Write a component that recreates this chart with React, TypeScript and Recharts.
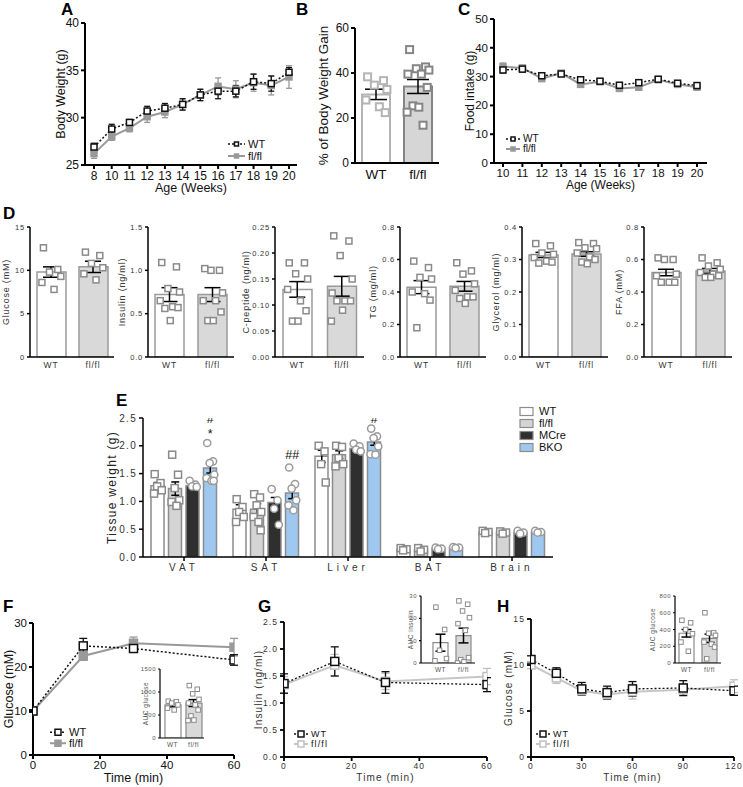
import React from "react";
import {
  Bar,
  Cell,
  ComposedChart,
  ErrorBar,
  Line,
  LineChart,
  Scatter,
  XAxis,
  YAxis,
} from "recharts";

const ARIAL = "'Liberation Sans', Arial, Helvetica, sans-serif";

// ---- A: body weight ----
const weeksA = ["8", "10", "11", "12", "13", "14", "15", "16", "17", "18", "19", "20"];
const bwWT = [26.9, 28.8, 29.5, 30.7, 31.0, 31.4, 32.4, 32.8, 32.8, 33.8, 33.6, 34.8];
const bwWTse = [0.4, 0.5, 0.3, 0.5, 0.5, 0.6, 0.6, 0.8, 0.6, 0.8, 0.8, 0.5];
const bwFL = [26.2, 28.0, 28.9, 30.1, 30.6, 31.4, 32.4, 33.3, 33.0, 33.7, 33.4, 34.3];
const bwFLse = [0.5, 0.4, 0.4, 0.6, 0.6, 0.6, 0.6, 0.9, 0.9, 0.9, 1.0, 1.2];

// ---- B: % body weight gain ----
const gainMean = [30.5, 34.0];
const gainSe = [2.3, 3.1];
const gainWT = [38.3, 36.6, 34.6, 32.7, 28.0, 25.0, 22.4];
const gainFL = [50.4, 42.7, 41.9, 41.3, 39.5, 39.5, 33.6, 25.4, 24.8, 22.6, 16.8];

// ---- C: food intake ----
const weeksC = ["10", "11", "12", "13", "14", "15", "16", "17", "18", "19", "20"];
const fiWT = [32.3, 32.6, 30.3, 30.9, 28.9, 28.4, 27.0, 27.9, 29.1, 27.7, 26.9];
const fiWTse = [1.0, 1.0, 1.0, 0.8, 0.6, 0.6, 0.6, 0.6, 0.6, 0.6, 0.6];
const fiFL = [33.5, 33.0, 29.3, 31.2, 27.3, 28.2, 25.9, 26.3, 28.9, 27.3, 26.3];
const fiFLse = [1.2, 0.9, 0.8, 0.7, 0.7, 0.6, 0.6, 0.6, 0.5, 0.5, 0.5];

// ---- D: plasma parameters ----
const dCats = ["WT", "fl/fl"];
const gluMean = [9.8, 10.4];
const gluSe = [0.6, 0.65];
const gluWT = [12.6, 10.1, 9.8, 9.3, 8.6, 7.8];
const gluFL = [12.1, 11.7, 10.8, 10.3, 9.6, 8.9];
const insMean = [0.72, 0.72];
const insSe = [0.08, 0.08];
const insWT = [1.09, 1.04, 0.79, 0.75, 0.65, 0.58, 0.57, 0.56, 0.42];
const insFL = [1.02, 1.0, 1.0, 0.74, 0.65, 0.65, 0.52, 0.42, 0.42];
const cpMean = [0.13, 0.136];
const cpSe = [0.015, 0.019];
const cpWT = [0.181, 0.181, 0.16, 0.15, 0.13, 0.108, 0.089, 0.069, 0.069];
const cpFL = [0.233, 0.223, 0.195, 0.15, 0.123, 0.108, 0.108, 0.108, 0.09, 0.069];
const tgMean = [0.43, 0.435];
const tgSe = [0.04, 0.03];
const tgWT = [0.59, 0.55, 0.49, 0.48, 0.4, 0.39, 0.35, 0.18];
const tgFL = [0.58, 0.53, 0.51, 0.45, 0.41, 0.37, 0.37, 0.36, 0.33];
const glyMean = [0.314, 0.317];
const glySe = [0.008, 0.007];
const glyWT = [0.349, 0.342, 0.32, 0.316, 0.306, 0.295, 0.292, 0.289];
const glyFL = [0.352, 0.349, 0.336, 0.333, 0.32, 0.308, 0.3, 0.292, 0.287];
const ffaMean = [0.52, 0.53];
const ffaSe = [0.02, 0.015];
const ffaWT = [0.61, 0.6, 0.6, 0.51, 0.5, 0.46, 0.46, 0.46];
const ffaFL = [0.61, 0.58, 0.56, 0.54, 0.52, 0.51, 0.5, 0.49, 0.49];

// ---- E: tissue weights ----
const tissues = ["VAT", "SAT", "Liver", "BAT", "Brain"];
const groupsE = ["WT", "fl/fl", "MCre", "BKO"];
const wtMean = [1.28, 0.86, 1.81, 0.14, 0.45];
const wtSe = [0.06, 0.08, 0.11, 0.02, 0.01];
const flMean = [1.23, 0.86, 1.84, 0.13, 0.44];
const flSe = [0.12, 0.1, 0.07, 0.02, 0.01];
const mcMean = [1.28, 0.98, 1.95, 0.15, 0.44];
const mcSe = [0.03, 0.09, 0.03, 0.02, 0.01];
const bkoMean = [1.6, 1.15, 2.07, 0.17, 0.45];
const bkoSe = [0.09, 0.1, 0.06, 0.01, 0.01];
const wtPts = [[1.49, 1.33, 1.27, 1.2, 1.14], [1.04, 0.9, 0.81, 0.72, 0.63], [2.0, 1.9, 1.67, 1.34], [0.16, 0.14, 0.12], [0.47, 0.45, 0.43]];
const flPts = [[1.84, 1.48, 1.24, 1.02, 0.99, 0.92], [1.13, 1.07, 0.93, 0.81, 0.72, 0.63, 0.48], [2.0, 1.98, 1.78, 1.67, 1.63], [0.16, 0.13, 0.1], [0.46, 0.44, 0.42]];
const mcPts = [[1.37, 1.3, 1.27, 1.26], [1.22, 1.02, 0.87, 0.58], [2.04, 1.99, 1.93, 1.9], [0.17, 0.15, 0.14], [0.47, 0.44, 0.42]];
const bkoPts = [[2.05, 1.72, 1.69, 1.48, 1.42, 1.37, 1.37], [1.61, 1.31, 1.23, 1.02, 0.93, 0.84], [2.31, 2.17, 2.14, 1.99, 1.85, 1.84], [0.18, 0.17, 0.16], [0.47, 0.45, 0.44]];
// significance marks over BKO bars (tissue index, label, height in g)
const sigTissue = [0, 0, 1, 2];
const sigText = ["#", "*", "##", "#"];
const sigAt = [2.48, 2.22, 1.83, 2.48];

// ---- F: GTT ----
const tF = [0, 15, 30, 60];
const gttWT = [10, 24.8, 24.2, 21.6];
const gttWTse = [0.3, 1.7, 0.4, 1.2];
const gttFL = [10, 22.5, 25.4, 24.5];
const gttFLse = [0.3, 1.0, 1.4, 2.0];
const aucGMean = [720, 760];
const aucGSe = [45, 75];
const aucGWT = [800, 790, 760, 720, 650, 610];
const aucGFL = [1140, 1060, 960, 840, 760, 720, 610, 480, 390, 380];

// ---- G: insulin ----
const tG = [0, 15, 30, 60];
const insTWT = [1.36, 1.77, 1.38, 1.34];
const insTWTse = [0.18, 0.27, 0.2, 0.13];
const insTFL = [1.34, 1.7, 1.4, 1.49];
const insTFLse = [0.15, 0.2, 0.15, 0.15];
const aucIMean = [9.1, 12.3];
const aucISe = [3.8, 3.3];
const aucIWT = [25, 15, 5.7, 2, 1];
const aucIFL = [27.8, 26.3, 23.3, 20.3, 17.6, 14.6, 2.4, 1.5, 0.5, 0];

// ---- H: ITT ----
const tH = [0, 15, 30, 45, 60, 90, 120];
const ittWT = [10.6, 9.1, 7.4, 7.0, 7.4, 7.5, 7.2];
const ittWTse = [0.4, 0.6, 0.7, 0.7, 0.8, 0.8, 0.5];
const ittFL = [10.0, 8.6, 7.2, 6.8, 7.1, 7.3, 7.7];
const ittFLse = [0.4, 0.6, 0.5, 0.5, 0.8, 0.7, 0.7];
const aucHMean = [355, 295];
const aucHSe = [45, 50];
const aucHWT = [510, 480, 400, 350, 250, 140];
const aucHFL = [600, 360, 355, 330, 250, 225, 190, 50];

// horizontal scatter of dots inside a bar (fraction of half-spread)
const JIT = [-0.5, 0.45, -0.1, 0.65, -0.6, 0.2, 0.55, -0.3, 0.05, -0.65, 0.3, -0.2];

type Box = { l: number; t: number; r: number; b: number };
const MT = 8;
const MR = 12;
const TP = 12;

type LineStyle = {
  name: string;
  stroke: string;
  width: number;
  dash?: string;
  mark: string;
  fill: string;
  size: number;
  cap: number;
};

const WT_A: LineStyle = { name: "WT", stroke: "#111", width: 1.5, dash: "2 2", mark: "#111", fill: "#fff", size: 6, cap: 3 };
const FL_A: LineStyle = { name: "fl/fl", stroke: "#999", width: 2, mark: "#999", fill: "#999", size: 6, cap: 3 };
const WT_F: LineStyle = { ...WT_A, size: 8, cap: 4 };
const FL_F: LineStyle = { ...FL_A, size: 8, cap: 4 };
const WT_G: LineStyle = { name: "WT", stroke: "#111", width: 1.3, dash: "2 2", mark: "#111", fill: "#fff", size: 8, cap: 4 };
const FL_G: LineStyle = { name: "fl/fl", stroke: "#c6c6c6", width: 2, mark: "#c0c0c0", fill: "#fff", size: 8, cap: 4 };

const rowsOf = (xs: (string | number)[], a: number[], ae: number[], b: number[], be: number[]) =>
  xs.map((x, i) => ({ x, a: a[i], aE: ae[i], b: b[i], bE: be[i] }));

const squareDot = (st: LineStyle) => (p: any) => {
  if (p.cx == null || p.cy == null) return <g key={`n${p.index}`} />;
  const h = st.size / 2;
  return (
    <rect key={`d${p.index}`} x={p.cx - h} y={p.cy - h} width={st.size} height={st.size}
      fill={st.fill} stroke={st.mark} strokeWidth={1.5} />
  );
};

// x tick with its own letter spacing
const spacedTick = (size: number, fill: string, sp: number) => (t: any) => (
  <text x={t.x} y={t.y} dy="0.71em" textAnchor="middle" fontSize={size} fill={fill} style={{ letterSpacing: sp }}>
    {t.payload.value}
  </text>
);

type LineProps = {
  box: Box;
  rows: any[];
  xType: "category" | "number";
  xDomain?: [number, number];
  xTicks?: number[];
  xPad?: [number, number];
  yDomain: [number, number];
  yTicks: number[];
  yFmt?: (v: number) => string;
  series: LineStyle[];
  tick: number;
  titleSize: number;
  color: string;
  axisW: number;
  cls?: string;
  xTitle: string;
  xBase: number;
  yTitle: string;
  yTitleX: number;
};

function LinePanel(p: LineProps) {
  const { box } = p;
  const yw = box.l - p.yTitleX + TP;
  const xh = p.xBase - box.b;
  const w = yw + box.r - box.l + MR;
  const h = MT + box.b - box.t + xh;
  const tick = { fill: p.color, fontSize: p.tick };
  const ax = { stroke: "#000", strokeWidth: p.axisW };
  const keys = ["a", "b"];
  return (
    <div className={p.cls} style={{ position: "absolute", left: box.l - yw, top: box.t - MT }}>
      <LineChart width={w} height={h} data={p.rows} margin={{ top: MT, right: MR, left: 0, bottom: 0 }}>
        <XAxis
          dataKey="x"
          type={p.xType}
          domain={p.xDomain}
          ticks={p.xTicks}
          allowDataOverflow={p.xType === "number"}
          padding={{ left: p.xPad?.[0] ?? 0, right: p.xPad?.[1] ?? 0 }}
          height={xh}
          interval={0}
          tick={tick}
          tickSize={4}
          tickMargin={2}
          axisLine={ax}
          tickLine={ax}
          label={{ value: p.xTitle, position: "insideBottom", offset: 0, fill: p.color, fontSize: p.titleSize }}
        />
        <YAxis
          type="number"
          domain={p.yDomain}
          ticks={p.yTicks}
          allowDataOverflow
          width={yw}
          interval={0}
          tick={tick}
          tickFormatter={p.yFmt}
          tickSize={4}
          tickMargin={2}
          axisLine={ax}
          tickLine={ax}
          label={{
            value: p.yTitle,
            angle: -90,
            position: "insideLeft",
            offset: TP,
            fill: p.color,
            fontSize: p.titleSize,
            style: { textAnchor: "middle" },
          }}
        />
        {[1, 0].map((i) => {
          const st = p.series[i];
          const k = keys[i];
          return (
            <Line
              key={k}
              dataKey={k}
              name={st.name}
              stroke={st.stroke}
              strokeWidth={st.width}
              strokeDasharray={st.dash}
              dot={squareDot(st)}
              activeDot={false}
              isAnimationActive={false}
            >
              <ErrorBar dataKey={k + "E"} direction="y" width={st.cap} stroke={st.mark} strokeWidth={1.3} />
            </Line>
          );
        })}
      </LineChart>
    </div>
  );
}

function LineKey(props: { x: number; y: number; series: LineStyle[]; font: number; row: number; len: number; cls?: string }) {
  const { row, len } = props;
  return (
    <div className={props.cls} style={{ position: "absolute", left: props.x, top: props.y, fontSize: props.font, lineHeight: `${row}px` }}>
      {props.series.map((st) => (
        <div key={st.name} style={{ display: "flex", alignItems: "center", height: row }}>
          <svg width={len} height={row}>
            <line x1={0} x2={len} y1={row / 2} y2={row / 2} stroke={st.stroke} strokeWidth={st.width} strokeDasharray={st.dash} />
            <rect x={len / 2 - st.size / 2 + 1} y={row / 2 - st.size / 2 + 1} width={st.size - 2} height={st.size - 2}
              fill={st.fill} stroke={st.mark} strokeWidth={1.5} />
          </svg>
          <span style={{ marginLeft: 3, color: "#111" }}>{st.name}</span>
        </div>
      ))}
    </div>
  );
}

type Grp = { mean: number; se: number; pts: number[]; fill: string; edge: string; dot: string };

type BarProps = {
  box: Box;
  cats: string[];
  groups: Grp[];
  pad?: number;
  barSize: number;
  yDomain: [number, number];
  yTicks: number[];
  yFmt?: (v: number) => string;
  tick: number;
  catSize: number;
  titleSize: number;
  color: string;
  yTitle: string;
  yTitleX: number;
  xh: number;
  cap: number;
  dot: number;
  dotW: number;
  spread: number;
  axisW: number;
  tickLen: number;
  edgeW: number;
  cls?: string;
};

function BarDots(p: BarProps) {
  const { box } = p;
  const yw = box.l - p.yTitleX + TP;
  const w = yw + box.r - box.l + MR;
  const h = MT + box.b - box.t + p.xh;
  const n = p.cats.length;
  const rows = p.cats.map((c, i) => ({ name: c, v: p.groups[i].mean }));
  const pts = p.groups.flatMap((g, i) =>
    g.pts.map((y, j) => ({ x: i + JIT[j % JIT.length] * p.spread, y, g: i }))
  );
  const means = p.groups.map((g, i) => ({ x: i, y: g.mean, e: g.se }));
  const pad = { left: p.pad ?? 0, right: 0 };
  const ax = { stroke: "#000", strokeWidth: p.axisW };
  const half = p.dot / 2;
  return (
    <div className={p.cls} style={{ position: "absolute", left: box.l - yw, top: box.t - MT }}>
      <ComposedChart width={w} height={h} data={rows} margin={{ top: MT, right: MR, left: 0, bottom: 0 }}>
        <XAxis
          xAxisId="cat"
          dataKey="name"
          type="category"
          padding={pad}
          height={p.xh}
          interval={0}
          tick={{ fill: p.color, fontSize: p.catSize }}
          tickSize={p.tickLen}
          tickMargin={2}
          axisLine={ax}
          tickLine={false}
        />
        <XAxis xAxisId="num" dataKey="x" type="number" domain={[-0.5, n - 0.5]} allowDataOverflow padding={pad} hide />
        <YAxis
          type="number"
          domain={p.yDomain}
          ticks={p.yTicks}
          allowDataOverflow
          width={yw}
          interval={0}
          tick={{ fill: p.color, fontSize: p.tick }}
          tickFormatter={p.yFmt}
          tickSize={p.tickLen}
          tickMargin={2}
          axisLine={ax}
          tickLine={ax}
          label={{
            value: p.yTitle,
            angle: -90,
            position: "insideLeft",
            offset: TP,
            fill: p.color,
            fontSize: p.titleSize,
            style: { textAnchor: "middle" },
          }}
        />
        <Bar xAxisId="cat" dataKey="v" barSize={p.barSize} isAnimationActive={false}>
          {p.groups.map((g, i) => (
            <Cell key={i} fill={g.fill} stroke={g.edge} strokeWidth={p.edgeW} />
          ))}
        </Bar>
        <Scatter
          xAxisId="num"
          data={pts}
          dataKey="y"
          isAnimationActive={false}
          shape={(s: any) => (
            <rect x={s.cx - half} y={s.cy - half} width={p.dot} height={p.dot} fill="#fff"
              stroke={p.groups[s.payload.g].dot} strokeWidth={p.dotW} />
          )}
        />
        <Scatter xAxisId="num" data={means} dataKey="y" isAnimationActive={false} shape={() => <g />}>
          <ErrorBar dataKey="e" direction="y" width={p.cap} stroke="#000" strokeWidth={1.5} />
        </Scatter>
      </ComposedChart>
    </div>
  );
}

const pair = (mean: number[], se: number[], a: number[], b: number[], fills: string[], edges: string[], dots: string[]): Grp[] => [
  { mean: mean[0], se: se[0], pts: a, fill: fills[0], edge: edges[0], dot: dots[0] },
  { mean: mean[1], se: se[1], pts: b, fill: fills[1], edge: edges[1], dot: dots[1] },
];

const fmt = (d: number) => (v: number) => v.toFixed(d);

const D_FILL = ["#ffffff", "#d9d9d9"];
const D_EDGE = ["#9a9a9a", "#9a9a9a"];
const D_DOT = ["#8a8a8a", "#8a8a8a"];

const dPanels = [
  { title: "Glucose (mM)", mean: gluMean, se: gluSe, a: gluWT, b: gluFL, top: 15, ticks: [0, 5, 10, 15], dec: 0, l: 30, r: 114, tx: 6 },
  { title: "Insulin (ng/ml)", mean: insMean, se: insSe, a: insWT, b: insFL, top: 1.5, ticks: [0, 0.5, 1, 1.5], dec: 1, l: 148, r: 234, tx: 122 },
  { title: "C-peptide (ng/ml)", mean: cpMean, se: cpSe, a: cpWT, b: cpFL, top: 0.25, ticks: [0, 0.05, 0.1, 0.15, 0.2, 0.25], dec: 2, l: 275, r: 364, tx: 246 },
  { title: "TG (mg/ml)", mean: tgMean, se: tgSe, a: tgWT, b: tgFL, top: 0.8, ticks: [0, 0.2, 0.4, 0.6, 0.8], dec: 1, l: 400, r: 486, tx: 373 },
  { title: "Glycerol (mg/ml)", mean: glyMean, se: glySe, a: glyWT, b: glyFL, top: 0.4, ticks: [0, 0.1, 0.2, 0.3, 0.4], dec: 1, l: 522, r: 608, tx: 496 },
  { title: "FFA (mM)", mean: ffaMean, se: ffaSe, a: ffaWT, b: ffaFL, top: 0.8, ticks: [0, 0.2, 0.4, 0.6, 0.8], dec: 1, l: 644, r: 732, tx: 619 },
];

const E_BAR = 13;
const E_GAP = 4.5;
const E_FILL = ["#ffffff", "#d4d4d4", "#2f2f2f", "#9ec8f0"];
const E_EDGE = "#8c8c8c";

function TissuePanel() {
  const box = { l: 143, t: 418, r: 553, b: 557 };
  const yTitleX = 112;
  const yw = box.l - yTitleX + TP;
  const xh = 20;
  const n = tissues.length;
  const band = (box.r - box.l) / n;
  const slot = (E_BAR + E_GAP) / band;
  const means = [wtMean, flMean, mcMean, bkoMean];
  const ses = [wtSe, flSe, mcSe, bkoSe];
  const ptsAll = [wtPts, flPts, mcPts, bkoPts];
  const keys = ["wt", "fl", "mc", "bko"];
  const rows = tissues.map((t, i) => ({ name: t, wt: wtMean[i], fl: flMean[i], mc: mcMean[i], bko: bkoMean[i] }));
  const dots = ptsAll.flatMap((set, si) =>
    set.flatMap((arr, ci) => arr.map((y, j) => ({ x: ci + (si - 1.5) * slot + JIT[j % JIT.length] * 0.075, y, s: si })))
  );
  const errs = means.flatMap((m, si) => m.map((y, ci) => ({ x: ci + (si - 1.5) * slot, y, e: ses[si][ci] })));
  const sig = sigTissue.map((c, k) => ({ x: c + 1.5 * slot, y: sigAt[k], t: sigText[k] }));
  const ax = { stroke: "#000", strokeWidth: 1.5 };
  return (
    <div className="sp-e" style={{ position: "absolute", left: box.l - yw, top: box.t - MT }}>
      <ComposedChart width={yw + box.r - box.l + MR} height={MT + box.b - box.t + xh} data={rows}
        margin={{ top: MT, right: MR, left: 0, bottom: 0 }} barGap={E_GAP}>
        <XAxis xAxisId="cat" dataKey="name" type="category" height={xh} interval={0}
          tick={spacedTick(10, "#333", 4)} tickSize={4} tickMargin={3} axisLine={ax} tickLine={ax} />
        <XAxis xAxisId="num" dataKey="x" type="number" domain={[-0.5, n - 0.5]} allowDataOverflow hide />
        <YAxis type="number" domain={[0, 2.5]} ticks={[0, 0.5, 1, 1.5, 2, 2.5]} allowDataOverflow width={yw} interval={0}
          tick={{ fill: "#333", fontSize: 10 }} tickFormatter={fmt(1)} tickSize={4} tickMargin={2} axisLine={ax} tickLine={ax}
          label={{ value: "Tissue weight (g)", angle: -90, position: "insideLeft", offset: TP, fill: "#222", fontSize: 12, style: { textAnchor: "middle" } }} />
        {keys.map((k, si) => (
          <Bar key={k} xAxisId="cat" dataKey={k} name={groupsE[si]} barSize={E_BAR} fill={E_FILL[si]} stroke={E_EDGE}
            strokeWidth={1.5} isAnimationActive={false} />
        ))}
        <Scatter xAxisId="num" data={dots} dataKey="y" isAnimationActive={false}
          shape={(s: any) =>
            s.payload.s < 2 ? (
              <rect x={s.cx - 3.5} y={s.cy - 3.5} width={7} height={7} fill="#fff" stroke="#8a8a8a" strokeWidth={1.5} />
            ) : (
              <circle cx={s.cx} cy={s.cy} r={3.6} fill="#fff" stroke="#9a9a9a" strokeWidth={1.5} />
            )
          } />
        <Scatter xAxisId="num" data={errs} dataKey="y" isAnimationActive={false} shape={() => <g />}>
          <ErrorBar dataKey="e" direction="y" width={4} stroke="#000" strokeWidth={1.5} />
        </Scatter>
        <Scatter xAxisId="num" data={sig} dataKey="y" isAnimationActive={false}
          shape={(s: any) => (
            <text x={s.cx} y={s.cy} textAnchor="middle" dominantBaseline="central" fontSize={12.5} fill="#111"
              style={{ letterSpacing: 0 }}>{s.payload.t}</text>
          )} />
      </ComposedChart>
    </div>
  );
}

function TissueKey() {
  return (
    <div style={{ position: "absolute", left: 519, top: 405, fontSize: 11, lineHeight: "12px", color: "#111" }}>
      {groupsE.map((g, i) => (
        <div key={g} style={{ display: "flex", alignItems: "center", height: 12 }}>
          <svg width={15} height={11}>
            <rect x={1} y={1.5} width={13} height={8} fill={E_FILL[i]} stroke={E_EDGE} strokeWidth={1.2} />
          </svg>
          <span style={{ marginLeft: 5 }}>{g}</span>
        </div>
      ))}
    </div>
  );
}

// panel letter; y is the top of the capital
function Letter({ ch, x, y }: { ch: string; x: number; y: number }) {
  return (
    <div style={{ position: "absolute", left: x, top: y - 0.7, fontFamily: ARIAL, fontWeight: 700, fontSize: 17, lineHeight: "14px", color: "#000" }}>
      {ch}
    </div>
  );
}

const CSS = `
.recharts-surface { overflow: visible; }
.sp-d text, .sp-d span { letter-spacing: 0.8px; }
.sp-e text { letter-spacing: 1.3px; }
.sp-g text, .sp-g span { letter-spacing: 1.1px; }
.sp-i text { letter-spacing: 0.5px; }
`;

const IN_FILL = ["#ffffff", "#d9d9d9"];
const IN_EDGE = ["#8a8a8a", "#8a8a8a"];
const IN_DOT = ["#8a8a8a", "#8a8a8a"];

export default function App() {
  return (
    <div style={{ position: "absolute", left: 0, top: 0, width: 743, height: 787, background: "#fff", fontFamily: ARIAL, overflow: "hidden" }}>
      <style>{CSS}</style>

      {/* A */}
      <LinePanel
        box={{ l: 85, t: 23, r: 297, b: 165 }}
        rows={rowsOf(weeksA, bwWT, bwWTse, bwFL, bwFLse)}
        xType="category"
        xPad={[9, 8]}
        yDomain={[25, 40]}
        yTicks={[25, 30, 35, 40]}
        series={[WT_A, FL_A]}
        tick={12}
        titleSize={12.5}
        color="#111"
        axisW={2}
        xTitle="Age (Weeks)"
        xBase={192}
        yTitle="Body Weight (g)"
        yTitleX={61}
      />
      <LineKey x={228} y={138} series={[WT_A, FL_A]} font={11} row={12} len={17} />

      {/* B */}
      <BarDots
        box={{ l: 355, t: 28, r: 439, b: 163 }}
        cats={dCats}
        groups={pair(gainMean, gainSe, gainWT, gainFL, ["#ffffff", "#d6d6d6"], ["#b4b4b4", "#858585"], ["#b4b4b4", "#858585"])}
        barSize={28}
        yDomain={[0, 60]}
        yTicks={[0, 20, 40, 60]}
        tick={12}
        catSize={13.5}
        titleSize={13.5}
        color="#111"
        yTitle="% of Body Weight Gain"
        yTitleX={323}
        xh={20}
        cap={11}
        dot={7}
        dotW={2}
        spread={0.4}
        axisW={2}
        tickLen={4}
        edgeW={2}
      />

      {/* C */}
      <LinePanel
        box={{ l: 494, t: 19, r: 707, b: 163 }}
        rows={rowsOf(weeksC, fiWT, fiWTse, fiFL, fiFLse)}
        xType="category"
        xPad={[9, 10]}
        yDomain={[0, 50]}
        yTicks={[0, 10, 20, 30, 40, 50]}
        series={[WT_A, FL_A]}
        tick={11.5}
        titleSize={12}
        color="#111"
        axisW={2}
        xTitle="Age (Weeks)"
        xBase={189}
        yTitle="Food intake (g)"
        yTitleX={470}
      />
      <LineKey x={506} y={134} series={[WT_A, FL_A]} font={10} row={10} len={14} />

      {/* D */}
      {dPanels.map((d) => (
        <BarDots
          key={d.title}
          cls="sp-d"
          box={{ l: d.l, t: 227, r: d.r, b: 357 }}
          cats={dCats}
          groups={pair(d.mean, d.se, d.a, d.b, D_FILL, D_EDGE, D_DOT)}
          barSize={29}
          yDomain={[0, d.top]}
          yTicks={d.ticks}
          yFmt={fmt(d.dec)}
          tick={7.5}
          catSize={8.5}
          titleSize={9}
          color="#333"
          yTitle={d.title}
          yTitleX={d.tx}
          xh={16}
          cap={8}
          dot={6}
          dotW={1.5}
          spread={0.36}
          axisW={1.5}
          tickLen={3}
          edgeW={1.5}
        />
      ))}

      {/* E */}
      <TissuePanel />
      <TissueKey />

      {/* F */}
      <LinePanel
        box={{ l: 33, t: 623, r: 234, b: 755 }}
        rows={rowsOf(tF, gttWT, gttWTse, gttFL, gttFLse)}
        xType="number"
        xDomain={[0, 60]}
        xTicks={[0, 20, 40, 60]}
        yDomain={[0, 30]}
        yTicks={[0, 10, 20, 30]}
        series={[WT_F, FL_F]}
        tick={11.5}
        titleSize={12.5}
        color="#111"
        axisW={2}
        xTitle="Time (min)"
        xBase={782}
        yTitle="Glucose (mM)"
        yTitleX={9}
      />
      <LineKey x={50} y={727} series={[WT_F, FL_F]} font={11} row={10.5} len={16} />
      <BarDots
        cls="sp-i"
        box={{ l: 160, t: 669, r: 204, b: 738 }}
        cats={dCats}
        groups={pair(aucGMean, aucGSe, aucGWT, aucGFL, IN_FILL, IN_EDGE, IN_DOT)}
        pad={2}
        barSize={16}
        yDomain={[0, 1500]}
        yTicks={[0, 500, 1000, 1500]}
        tick={6}
        catSize={6.5}
        titleSize={6.5}
        color="#555"
        yTitle="AUC glucose"
        yTitleX={146}
        xh={11}
        cap={5}
        dot={4.5}
        dotW={1}
        spread={0.4}
        axisW={1.2}
        tickLen={2}
        edgeW={1.2}
      />

      {/* G */}
      <LinePanel
        cls="sp-g"
        box={{ l: 284, t: 622, r: 487, b: 757 }}
        rows={rowsOf(tG, insTWT, insTWTse, insTFL, insTFLse)}
        xType="number"
        xDomain={[0, 60]}
        xTicks={[0, 20, 40, 60]}
        yDomain={[0, 2.5]}
        yTicks={[0, 0.5, 1, 1.5, 2, 2.5]}
        yFmt={fmt(1)}
        series={[WT_G, FL_G]}
        tick={8.5}
        titleSize={10}
        color="#333"
        axisW={1.8}
        xTitle="Time (min)"
        xBase={781}
        yTitle="Insulin (ng/ml)"
        yTitleX={258}
      />
      <LineKey cls="sp-g" x={294} y={729} series={[WT_G, FL_G]} font={9} row={10} len={14} />
      <BarDots
        cls="sp-i"
        box={{ l: 421, t: 596, r: 475, b: 663 }}
        cats={dCats}
        groups={pair(aucIMean, aucISe, aucIWT, aucIFL, IN_FILL, IN_EDGE, IN_DOT)}
        pad={8}
        barSize={15}
        yDomain={[0, 30]}
        yTicks={[0, 10, 20, 30]}
        tick={6}
        catSize={6.5}
        titleSize={6.5}
        color="#555"
        yTitle="AUC insulin"
        yTitleX={411}
        xh={11}
        cap={5}
        dot={4.5}
        dotW={1}
        spread={0.4}
        axisW={1.2}
        tickLen={2}
        edgeW={1.2}
      />

      {/* H */}
      <LinePanel
        cls="sp-g"
        box={{ l: 531, t: 619, r: 734, b: 757 }}
        rows={rowsOf(tH, ittWT, ittWTse, ittFL, ittFLse)}
        xType="number"
        xDomain={[0, 120]}
        xTicks={[0, 30, 60, 90, 120]}
        yDomain={[0, 15]}
        yTicks={[0, 5, 10, 15]}
        series={[WT_G, FL_G]}
        tick={8.5}
        titleSize={10}
        color="#333"
        axisW={1.8}
        xTitle="Time (min)"
        xBase={781}
        yTitle="Glucose (mM)"
        yTitleX={508}
      />
      <LineKey cls="sp-g" x={536} y={729} series={[WT_G, FL_G]} font={9} row={10} len={14} />
      <BarDots
        cls="sp-i"
        box={{ l: 675, t: 596, r: 721, b: 663 }}
        cats={dCats}
        groups={pair(aucHMean, aucHSe, aucHWT, aucHFL, IN_FILL, IN_EDGE, IN_DOT)}
        barSize={15}
        yDomain={[0, 800]}
        yTicks={[0, 200, 400, 600, 800]}
        tick={6}
        catSize={6.5}
        titleSize={6.5}
        color="#555"
        yTitle="AUC glucose"
        yTitleX={653}
        xh={11}
        cap={5}
        dot={4.5}
        dotW={1}
        spread={0.4}
        axisW={1.2}
        tickLen={2}
        edgeW={1.2}
      />

      <Letter ch="A" x={61} y={4} />
      <Letter ch="B" x={296} y={4} />
      <Letter ch="C" x={458} y={4} />
      <Letter ch="D" x={3} y={208} />
      <Letter ch="E" x={116} y={395} />
      <Letter ch="F" x={3} y={601} />
      <Letter ch="G" x={258} y={601} />
      <Letter ch="H" x={497} y={601} />
    </div>
  );
}
